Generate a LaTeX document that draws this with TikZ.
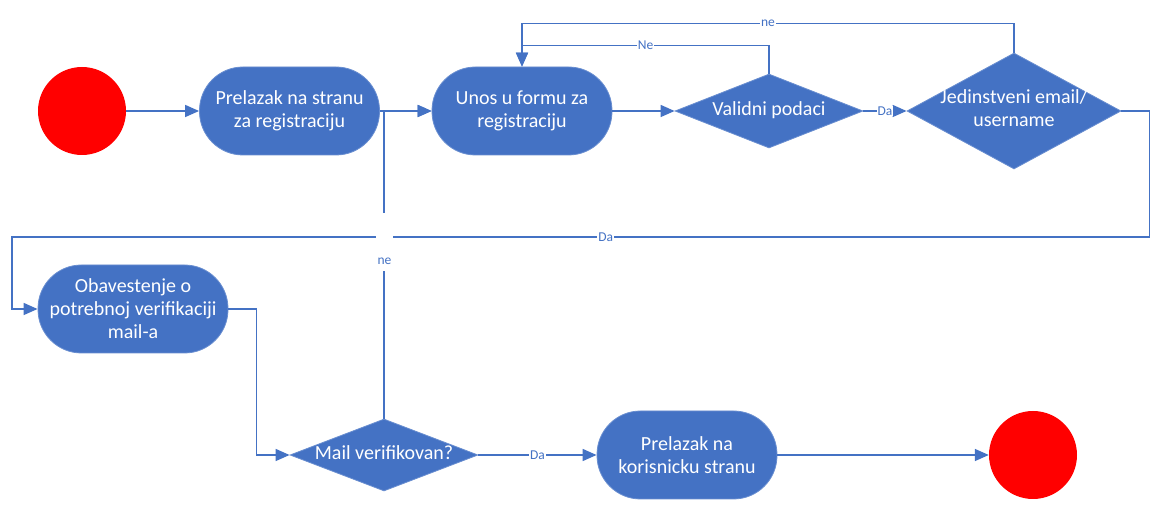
\documentclass[tikz,border=0pt]{standalone}
\usepackage{fontspec}
\setmainfont{Carlito}
\usetikzlibrary{shapes.geometric,arrows.meta}
\definecolor{bl}{HTML}{4472C4}
\definecolor{rd}{HTML}{FF0000}
\newcommand\dtext[1]{\smash{\makebox[0pt]{\raisebox{-0.25em}{\begin{tabular}{@{}c@{}}#1\end{tabular}}}}}
\begin{document}
\begin{tikzpicture}[x=1pt,y=-1pt,
  proc/.style={draw=bl!80!white, line width=0.8pt, fill=bl, text=white, rounded corners=43.5pt,
    minimum width=#1, minimum height=88pt, align=center, inner sep=0pt,
    font=\fontsize{20}{23}\selectfont},
  dia/.style={shape=diamond, draw=bl!80!white, line width=0.8pt, fill=bl, text=white, inner sep=0pt,
    font=\fontsize{20}{23}\selectfont},
  term/.style={circle, fill=rd, minimum size=88pt, inner sep=0pt},
  conn/.style={draw=bl, line width=1.5pt, -{Triangle[length=14pt,width=12pt]}},
  lbl/.style={fill=white, text=bl, inner sep=1pt, font=\fontsize{13.5}{15}\selectfont}]
\useasboundingbox (0,0) rectangle (1160,510);

\node[term] (start) at (82,111) {};
\node[proc=180pt] (b1) at (289.5,111) {Prelazak na stranu\\za registraciju};
\node[proc=180pt] (b2) at (522,111) {Unos u formu za\\registraciju};
\node[dia, minimum width=188pt, minimum height=74pt] (d1) at (769,111) {\dtext{Validni podaci}};
\node[dia, minimum width=214pt, minimum height=116pt] (d2) at (1014,111) {\dtext{Jedinstveni email/\\username}};
\node[proc=190pt] (b3) at (133,309) {Obavestenje o\\potrebnoj verifikaciji\\mail-a};
\node[dia, minimum width=188pt, minimum height=72pt] (d3) at (384,455) {\dtext{Mail verifikovan?}};
\node[proc=180pt] (b4) at (687,455) {Prelazak na\\korisnicku stranu};
\node[term] (end) at (1033,455) {};

\draw[conn] (start) -- (b1);
\draw[conn] (b1) -- (b2);
\draw[conn] (b2) -- (d1);
\draw[conn] (d1) -- node[lbl]{Da} (d2);
\draw[conn] (d1.north) -- ++(0,-28) coordinate (t1) -- node[lbl]{Ne} (t1 -| b2.north) -- (b2.north);
\draw[conn] (d2.north) -- ++(0,-29) coordinate (t2) -- node[lbl]{ne} (t2 -| b2.north) -- (b2.north);
\draw[conn] (d2.east) -- ++(28,0) coordinate (r1) -- (r1 |- 0,237) coordinate (r2)
  -- node[lbl,pos=0.478]{Da} (12,237) coordinate (r3) |- (b3.west);
\draw[conn] (d3.north) -- (d3.north |- b2.west) -- (b2.west);
\node[fill=white, text=bl, inner xsep=2pt, inner ysep=0pt, text height=52pt, text depth=6pt,
  anchor=base, font=\fontsize{13.5}{15}\selectfont] (nelbl) at (384.5,265) {ne};
\draw[conn] (b3.east) -- ++(28,0) |- (d3.west);
\draw[conn] (d3) -- node[lbl]{Da} (b4);
\draw[conn] (b4) -- (end);
\end{tikzpicture}
\end{document}
